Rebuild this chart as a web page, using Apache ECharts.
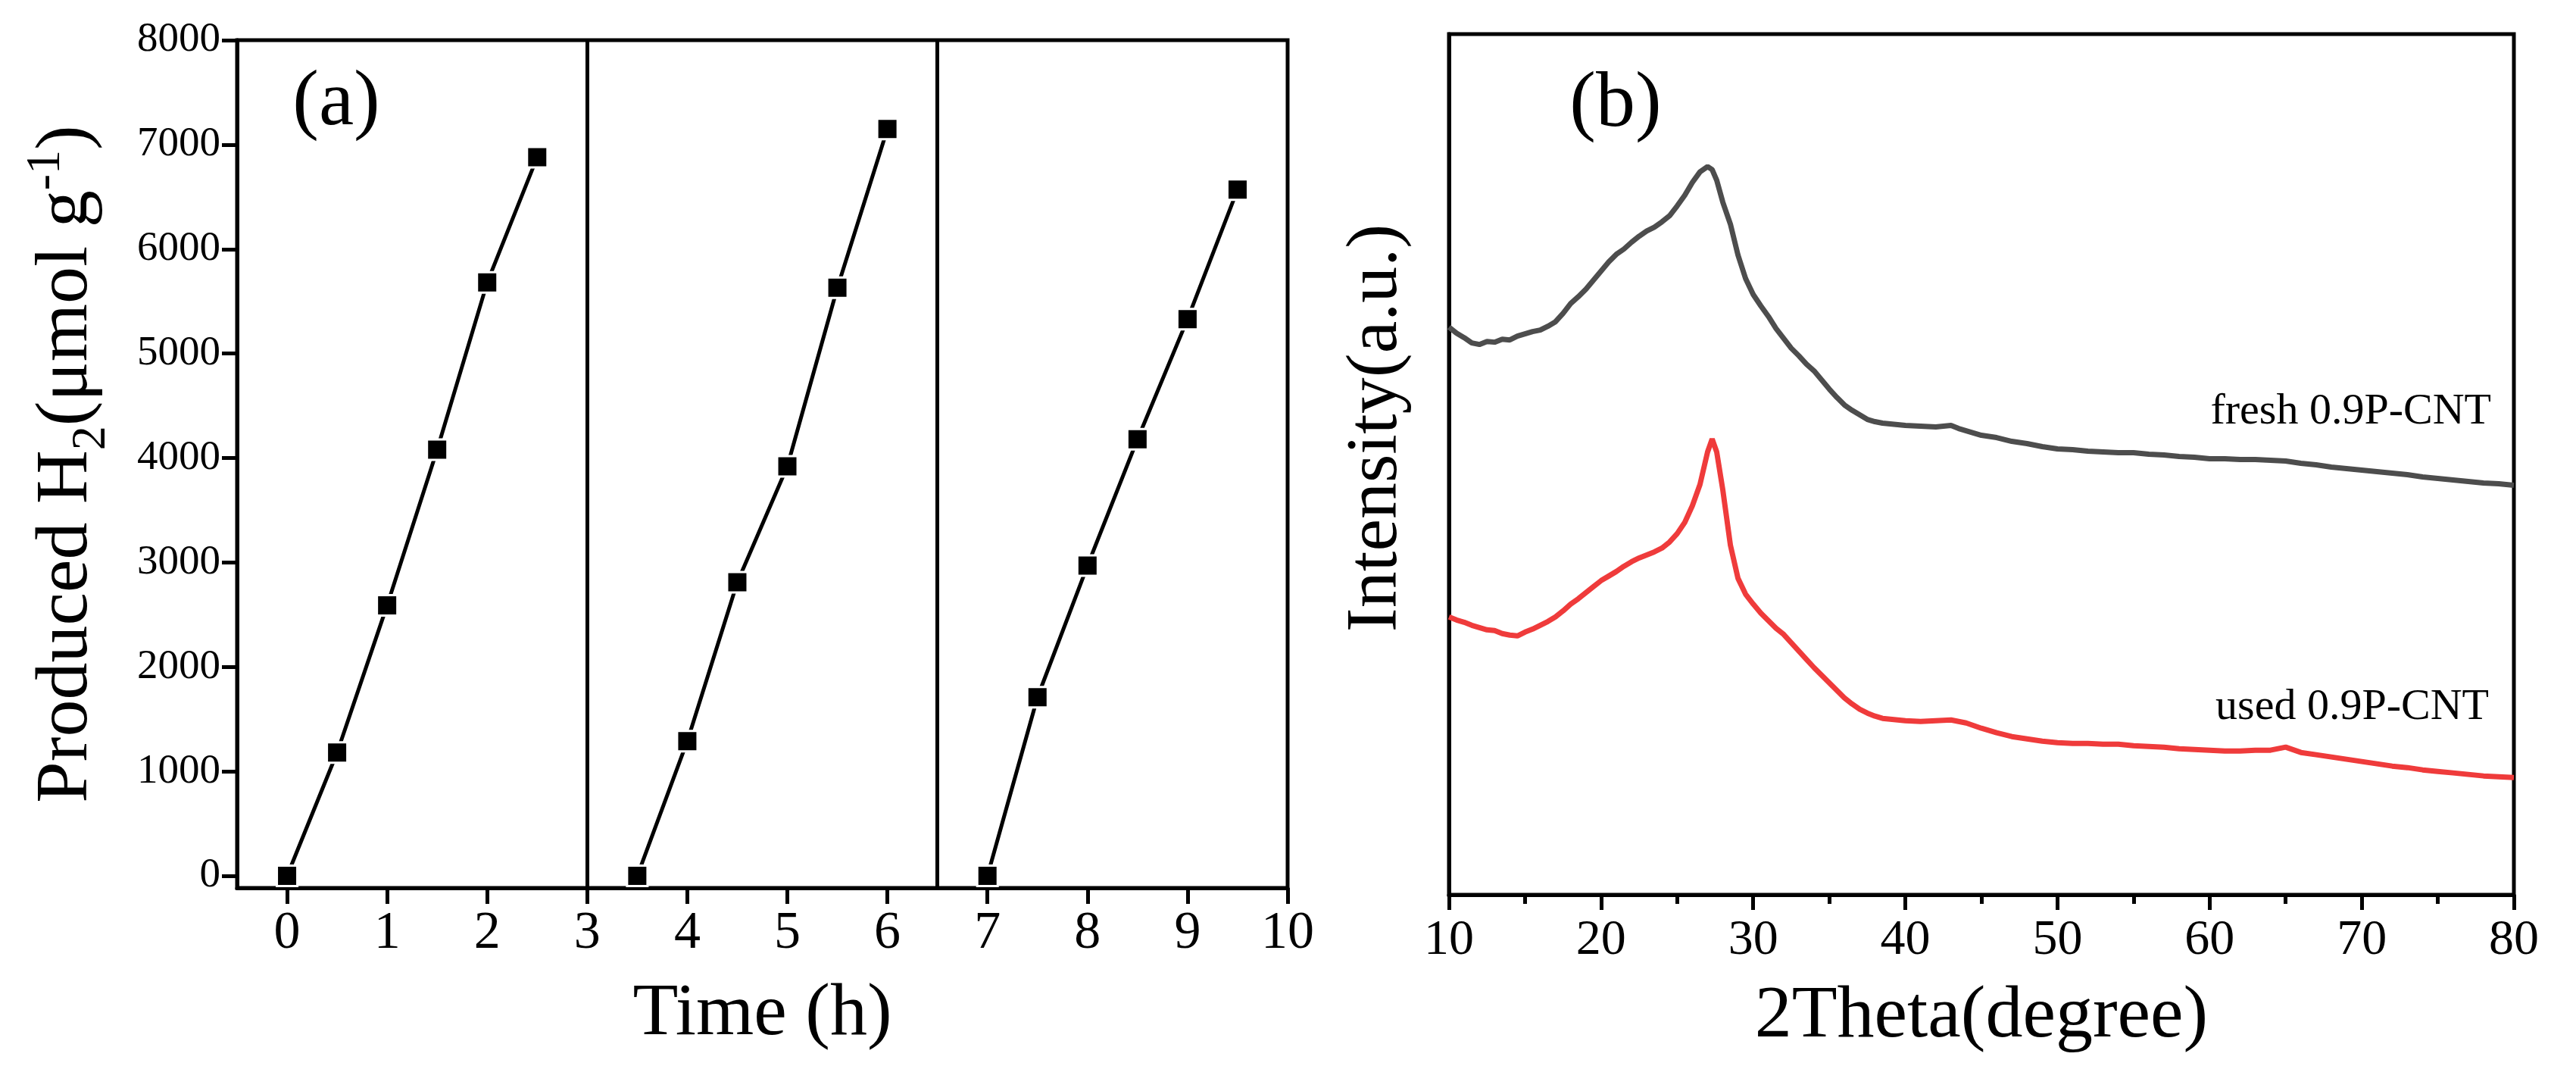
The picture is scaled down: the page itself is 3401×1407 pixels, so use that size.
<!DOCTYPE html>
<html>
<head>
<meta charset="utf-8">
<title>H2 production cycles and XRD</title>
<script src="https://cdn.jsdelivr.net/npm/echarts@6/dist/echarts.min.js"></script>
<style>
  html, body { margin: 0; padding: 0; background: #fff; }
  #main { width: 3401px; height: 1407px; }
</style>
</head>
<body>
<div id="main"></div>
<script>
// (a) 三个循环的产氢量
const cycle1Time = [0, 0.5, 1, 1.5, 2, 2.5];
const cycle1H2 = [0, 1180, 2590, 4080, 5680, 6880];
const cycle2Time = [3.5, 4, 4.5, 5, 5.5, 6];
const cycle2H2 = [0, 1290, 2810, 3920, 5630, 7150];
const cycle3Time = [7, 7.5, 8, 8.5, 9, 9.5];
const cycle3H2 = [0, 1710, 2970, 4180, 5330, 6570];
const cycleBreaks = [3, 6.5];
const timeTicks = [0, 1, 2, 3, 4, 5, 6, 7, 8, 9, 10];
const h2Ticks = [0, 1000, 2000, 3000, 4000, 5000, 6000, 7000, 8000];

// (b) XRD, 读图估计的强度 (a.u.)
const thetaDeg = [10, 10.5, 11, 11.5, 12, 12.5, 13, 13.5, 14, 14.5, 15, 15.5, 16, 16.5, 17, 17.5,
  18, 18.5, 19, 19.5, 20, 20.5, 21, 21.5, 22, 22.5, 23, 23.5, 24, 24.5, 25, 25.5, 26, 26.5,
  27, 27.3, 27.6, 28, 28.5, 29, 29.5, 30, 30.5, 31, 31.5, 32, 32.5, 33, 33.5, 34, 34.5, 35,
  35.5, 36, 36.5, 37, 37.5, 38, 38.5, 39, 39.5, 40, 41, 42, 43, 43.5, 44, 45, 46, 47, 48, 49,
  50, 51, 52, 53, 54, 55, 56, 57, 58, 59, 60, 61, 62, 63, 64, 65, 66, 67, 68, 69, 70,
  71, 72, 73, 74, 75, 76, 77, 78, 79, 80];
const freshIntensity = [750, 742, 736, 729, 727, 731, 730, 734, 733, 738, 741, 744, 746, 751, 757, 768,
  781, 790, 800, 812, 824, 836, 846, 853, 862, 870, 877, 882, 889, 897, 910, 924, 941, 955,
  962, 958, 944, 915, 886, 845, 814, 793, 778, 764, 748, 735, 722, 712, 701, 692, 680, 668,
  657, 647, 640, 634, 628, 625, 623, 622, 621, 620, 619, 618, 620, 616, 613, 607, 604, 599, 596, 592,
  589, 588, 586, 585, 584, 584, 582, 581, 579, 578, 576, 576, 575, 575, 574, 573, 570, 568, 565, 563, 561,
  559, 557, 555, 552, 550, 548, 546, 544, 543, 541];
const usedIntensity = [367, 363, 360, 356, 353, 350, 349, 345, 343, 342, 347, 351, 356, 361, 367, 375,
  384, 391, 399, 407, 415, 421, 427, 434, 440, 445, 449, 453, 458, 466, 477, 492, 514, 542,
  585, 602, 585, 535, 462, 418, 397, 384, 372, 362, 352, 344, 333, 322, 311, 300, 290, 280,
  270, 260, 252, 245, 240, 236, 233, 232, 231, 230, 229, 230, 231, 229, 227, 220, 214, 209, 206, 203,
  201, 200, 200, 199, 199, 197, 196, 195, 193, 192, 191, 190, 190, 191, 191, 195, 188, 185, 182, 179, 176,
  173, 170, 168, 165, 163, 161, 159, 157, 156, 155];

const FONT = '"Liberation Serif", "Times New Roman", serif';

function zip(xs, ys) {
    let pts = [];
    for (let i = 0; i < xs.length; i++) {
        pts.push([xs[i], ys[i]]);
    }
    return pts;
}

function cycleSeries(xs, ys, withBreaks) {
    let s = {
        type: 'line',
        xAxisIndex: 0,
        yAxisIndex: 0,
        data: zip(xs, ys),
        symbol: 'rect',
        symbolSize: 27,
        lineStyle: {color: '#000', width: 5},
        itemStyle: {color: '#000', borderColor: '#fff', borderWidth: 3},
        z: 3
    };
    if (withBreaks) {
        s.markLine = {
            silent: true,
            symbol: ['none', 'none'],
            label: {show: false},
            lineStyle: {color: '#000', width: 5, type: 'solid'},
            data: cycleBreaks.map(function (v) { return {xAxis: v}; })
        };
    }
    return s;
}

let chart = echarts.init(document.getElementById('main'));

let option = {
    animation: false,
    backgroundColor: '#fff',
    grid: [
        {left: 313, top: 53, width: 1387, height: 1119, show: true, borderColor: '#000', borderWidth: 5},
        {left: 1913, top: 45, width: 1406, height: 1136, show: true, borderColor: '#000', borderWidth: 5}
    ],
    xAxis: [
        {
            type: 'value',
            gridIndex: 0,
            min: -0.5,
            max: 10,
            axisLine: {show: true, onZero: false, lineStyle: {color: '#000', width: 5}},
            axisTick: {show: true, length: 21, lineStyle: {color: '#000', width: 5}, customValues: timeTicks},
            axisLabel: {
                customValues: timeTicks,
                formatter: function (v) { return String(v); },
                fontSize: 70, fontFamily: FONT, color: '#000', margin: 26
            },
            splitLine: {show: false},
            name: 'Time (h)',
            nameLocation: 'middle',
            nameGap: 118,
            nameTextStyle: {fontSize: 98, fontFamily: FONT, color: '#000'}
        },
        {
            type: 'value',
            gridIndex: 1,
            min: 10,
            max: 80,
            interval: 10,
            axisLine: {show: true, onZero: false, lineStyle: {color: '#000', width: 5}},
            axisTick: {show: true, length: 20, lineStyle: {color: '#000', width: 5}},
            minorTick: {show: true, splitNumber: 2, length: 12, lineStyle: {color: '#000', width: 5}},
            axisLabel: {
                formatter: function (v) { return String(v); },
                fontSize: 66, fontFamily: FONT, color: '#000', margin: 28
            },
            splitLine: {show: false},
            minorSplitLine: {show: false},
            name: '2Theta(degree)',
            nameLocation: 'middle',
            nameGap: 112,
            nameTextStyle: {fontSize: 98, fontFamily: FONT, color: '#000'}
        }
    ],
    yAxis: [
        {
            type: 'value',
            gridIndex: 0,
            min: -116,
            max: 8000,
            axisLine: {show: true, onZero: false, lineStyle: {color: '#000', width: 5}},
            axisTick: {show: true, length: 20, lineStyle: {color: '#000', width: 5}, customValues: h2Ticks},
            axisLabel: {
                customValues: h2Ticks,
                formatter: function (v) { return String(v); },
                fontSize: 55, fontFamily: FONT, color: '#000', margin: 22
            },
            splitLine: {show: false},
            name: 'Produced H{sub|2}(μmol g{sup|-1})',
            nameLocation: 'middle',
            nameGap: 160,
            nameTextStyle: {
                fontSize: 98, fontFamily: FONT, color: '#000',
                rich: {
                    sub: {fontSize: 64, fontFamily: FONT, color: '#000', padding: [66, 0, 0, 0]},
                    sup: {fontSize: 64, fontFamily: FONT, color: '#000', padding: [0, 0, 54, 0]}
                }
            }
        },
        {
            type: 'value',
            gridIndex: 1,
            min: 0,
            max: 1137,
            axisLine: {show: true, onZero: false, lineStyle: {color: '#000', width: 5}},
            axisTick: {show: false},
            axisLabel: {show: false},
            splitLine: {show: false}
        }
    ],
    graphic: [
        {type: 'text', x: 444, y: 137, style: {text: '(a)', fontSize: 104, fontFamily: FONT, fill: '#000',
            textAlign: 'center', textVerticalAlign: 'middle'}},
        {type: 'text', x: 2133, y: 139, style: {text: '(b)', fontSize: 104, fontFamily: FONT, fill: '#000',
            textAlign: 'center', textVerticalAlign: 'middle'}},
        {type: 'text', x: 3289, y: 544, style: {text: 'fresh 0.9P-CNT', fontSize: 58, fontFamily: FONT, fill: '#000',
            textAlign: 'right', textVerticalAlign: 'middle'}},
        {type: 'text', x: 3286, y: 934, style: {text: 'used 0.9P-CNT', fontSize: 58, fontFamily: FONT, fill: '#000',
            textAlign: 'right', textVerticalAlign: 'middle'}},
        {type: 'text', x: 1818, y: 565, rotation: Math.PI / 2, style: {text: 'Intensity(a.u.)', fontSize: 96,
            fontFamily: FONT, fill: '#000', textAlign: 'center', textVerticalAlign: 'middle'}}
    ],
    series: [
        cycleSeries(cycle1Time, cycle1H2, true),
        cycleSeries(cycle2Time, cycle2H2, false),
        cycleSeries(cycle3Time, cycle3H2, false),
        {
            type: 'line',
            name: 'fresh 0.9P-CNT',
            xAxisIndex: 1,
            yAxisIndex: 1,
            data: zip(thetaDeg, freshIntensity),
            showSymbol: false,
            lineStyle: {color: '#4d4d4d', width: 7}
        },
        {
            type: 'line',
            name: 'used 0.9P-CNT',
            xAxisIndex: 1,
            yAxisIndex: 1,
            data: zip(thetaDeg, usedIntensity),
            showSymbol: false,
            lineStyle: {color: '#ef3b3b', width: 7}
        }
    ]
};

chart.setOption(option);
</script>
</body>
</html>
